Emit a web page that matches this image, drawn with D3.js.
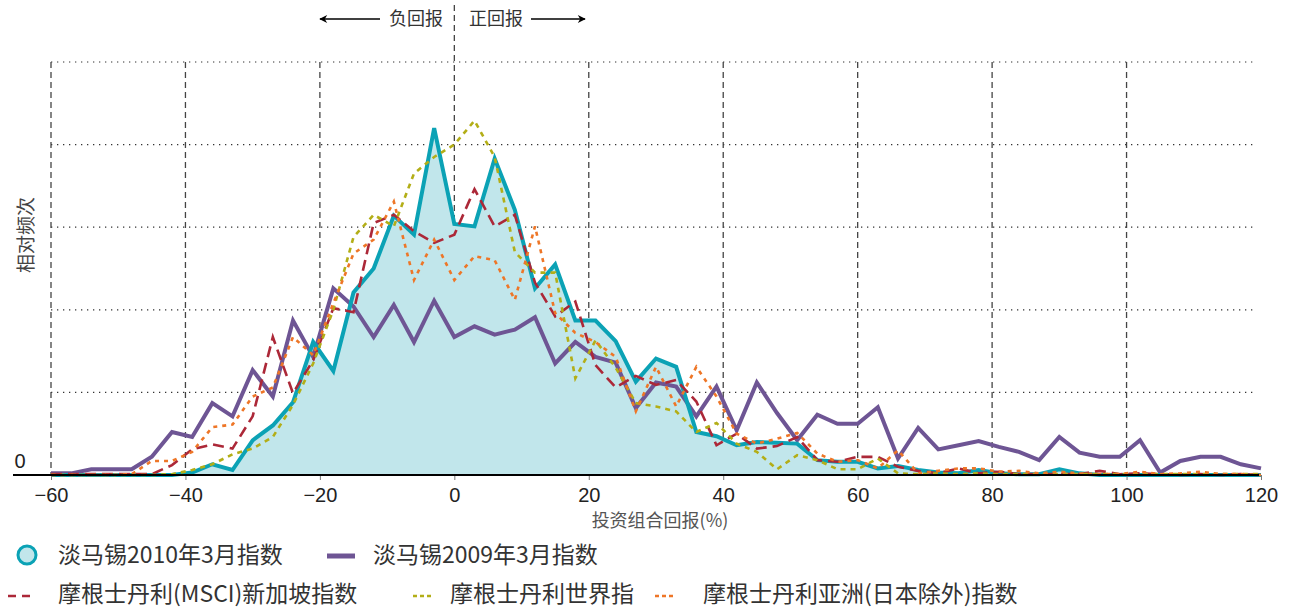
<!DOCTYPE html>
<html>
<head>
<meta charset="utf-8">
<script src="https://cdn.jsdelivr.net/npm/d3@7"></script>
<style>
  html, body { margin: 0; padding: 0; background: #fff; }
  svg { display: block; }
  text { font-family: "Noto Sans CJK SC", "Noto Sans", sans-serif; }
</style>
</head>
<body>
<svg id="chart" width="1291" height="609"></svg>
<script>
// Return bins (%), one point every 3 percentage points
const returns = [-60,-57,-54,-51,-48,-45,-42,-39,-36,-33,-30,-27,-24,-21,-18,-15,-12,-9,-6,-3,
  0,3,6,9,12,15,18,21,24,27,30,33,36,39,42,45,48,51,54,57,60,63,66,69,72,75,78,81,84,87,
  90,93,96,99,102,105,108,111,114,117,120];

// Relative frequency of each index
const temasek2010 = [0,0,0,0,0,0,0,0.03,0.13,0.06,0.42,0.6,0.88,1.61,1.26,2.21,2.5,3.14,2.91,4.2,
  3.04,3.01,3.83,3.21,2.26,2.55,1.87,1.87,1.62,1.13,1.41,1.31,0.52,0.47,0.36,0.40,0.39,0.38,0.18,0.16,
  0.16,0.08,0.11,0.06,0.03,0.02,0.06,0.02,0.01,0.01,0.07,0.02,0,0,0,0,0,0,0,0,0];
const temasek2009 = [0.02,0.02,0.07,0.07,0.07,0.22,0.52,0.46,0.87,0.71,1.27,0.95,1.87,1.43,2.26,2.04,1.67,2.06,1.61,2.11,
  1.67,1.80,1.70,1.76,1.91,1.35,1.61,1.43,1.36,0.81,1.12,1.07,0.71,1.07,0.54,1.12,0.75,0.42,0.73,0.62,
  0.62,0.82,0.2,0.57,0.31,0.36,0.41,0.34,0.28,0.18,0.46,0.27,0.22,0.22,0.42,0.03,0.17,0.22,0.22,0.13,0.08];
const msciSingapore = [0.01,0.01,0.01,0.01,0.01,0.01,0.12,0.31,0.37,0.32,0.71,1.67,0.99,1.39,2.02,1.97,3.05,3.15,2.95,2.81,
  2.91,3.46,3.01,3.15,2.33,1.92,2.10,1.33,1.06,1.20,1.09,1.15,0.89,0.36,0.50,0.32,0.35,0.46,0.18,0.16,
  0.22,0.22,0.10,0.05,0.02,0.08,0.02,0.04,0.01,0.01,0.01,0.01,0.05,0.01,0.02,0.01,0,0.01,0,0.01,0];
const msciWorld = [0,0,0,0,0,0,0.01,0.06,0.13,0.25,0.32,0.46,0.85,1.35,2.0,2.88,3.15,3.01,3.65,3.85,
  4.0,4.29,3.85,2.7,2.45,2.45,1.17,1.63,1.3,0.87,0.83,0.77,0.52,0.63,0.38,0.28,0.07,0.24,0.18,0.07,
  0.07,0.2,0.02,0.01,0.02,0.01,0.02,0.01,0.01,0.01,0.01,0.01,0.01,0.01,0.01,0.01,0.01,0.01,0.01,0.01,0.01];
const msciAsiaExJapan = [0,0,0,0,0.01,0.17,0.17,0.28,0.58,0.61,0.95,1.06,1.67,1.45,2.08,2.68,2.85,3.31,2.36,2.85,
  2.36,2.65,2.60,2.12,3.01,1.96,1.72,1.61,1.43,0.77,1.31,0.83,1.31,0.95,0.50,0.38,0.44,0.51,0.26,0.16,
  0.18,0.08,0.30,0.02,0.05,0.08,0.08,0.04,0.05,0.02,0.04,0.02,0.01,0.01,0.04,0.01,0.02,0.04,0.01,0.01,0];

const xTicks = [-60,-40,-20,0,20,40,60,80,100,120];
const yGrid = [1,2,3,4,5];

const svg = d3.select("#chart");
const x = d3.scaleLinear().domain([-60, 120]).range([51, 1261]);
const y = d3.scaleLinear().domain([0, 5]).range([475, 62]);

// Horizontal dotted grid
svg.append("g").selectAll("line").data(yGrid).join("line")
  .attr("x1", x(-60)).attr("x2", 1257)
  .attr("y1", d => y(d)).attr("y2", d => y(d))
  .attr("stroke", "#333").attr("stroke-width", 1.2)
  .attr("stroke-dasharray", "1.3,4.7");

// Vertical dashed grid (the zero line reaches up to the annotation)
svg.append("g").selectAll("line").data(xTicks.filter(d => d < 120)).join("line")
  .attr("x1", d => x(d)).attr("x2", d => x(d))
  .attr("y1", d => d === 0 ? 5 : y(5)).attr("y2", y(0))
  .attr("stroke", "#444").attr("stroke-width", 1.3)
  .attr("stroke-dasharray", "6,4");

const pts = s => returns.map((r, i) => [r, s[i]]);
const line = d3.line().x(d => x(d[0])).y(d => y(d[1]));
const area = d3.area().x(d => x(d[0])).y0(y(0)).y1(d => y(d[1]));

// Temasek 2010: filled area with outline
svg.append("path").datum(pts(temasek2010)).attr("d", area)
  .attr("fill", "#c1e6eb");

const series = [
  { data: temasek2009, color: "#6e5594", width: 4, dash: null },
  { data: temasek2010, color: "#0ba2b5", width: 4, dash: null },
  { data: msciSingapore, color: "#ac2838", width: 2.6, dash: "11,6" },
  { data: msciWorld, color: "#b3ae17", width: 2.6, dash: "5,5" },
  { data: msciAsiaExJapan, color: "#ee7627", width: 2.6, dash: "4,5" }
];
series.forEach(s => {
  svg.append("path").datum(pts(s.data)).attr("d", line)
    .attr("fill", "none").attr("stroke", s.color).attr("stroke-width", s.width)
    .attr("stroke-linejoin", "miter")
    .attr("stroke-dasharray", s.dash);
});

// X axis
const xAxis = svg.append("g").attr("transform", `translate(0,${y(0)})`)
  .call(d3.axisBottom(x).tickValues(xTicks).tickSize(5).tickFormat(d3.format("d")));
xAxis.select(".domain").remove();
xAxis.selectAll(".tick line").attr("stroke", "#777");
xAxis.selectAll(".tick text").attr("dy", "0.95em")
  .style("font-family", "'Liberation Sans', Arial, sans-serif")
  .style("font-size", "20px").attr("fill", "#222");
svg.append("line").attr("x1", 13).attr("x2", 1259).attr("y1", y(0)).attr("y2", y(0))
  .attr("stroke", "#000").attr("stroke-width", 2);

svg.append("text").attr("x", 660).attr("y", 527).attr("text-anchor", "middle")
  .attr("fill", "#555").style("font-size", "18px").text("投资组合回报(%)");

// Y axis label and zero
svg.append("text").attr("transform", "translate(33,235) rotate(-90)")
  .attr("text-anchor", "middle").attr("fill", "#444").style("font-size", "19px").text("相对频次");
svg.append("text").attr("x", 20).attr("y", 468).attr("text-anchor", "middle")
  .attr("fill", "#222").style("font-family", "'Liberation Sans', Arial, sans-serif")
  .style("font-size", "20px").text("0");

// Negative / positive return annotation
const defs = svg.append("defs");
defs.append("marker").attr("id", "arrow").attr("viewBox", "0 0 10 10")
  .attr("refX", 9).attr("refY", 5).attr("markerWidth", 10).attr("markerHeight", 8)
  .attr("markerUnits", "userSpaceOnUse").attr("orient", "auto")
  .append("path").attr("d", "M0,0 L10,5 L0,10 L3,5 Z").attr("fill", "#000");
svg.append("line").attr("x1", 380).attr("x2", 320).attr("y1", 19).attr("y2", 19)
  .attr("stroke", "#000").attr("stroke-width", 1.5).attr("marker-end", "url(#arrow)");
svg.append("text").attr("x", 443).attr("y", 25).attr("text-anchor", "end")
  .attr("fill", "#333").style("font-size", "18px").text("负回报");
svg.append("text").attr("x", 469).attr("y", 25)
  .attr("fill", "#333").style("font-size", "18px").text("正回报");
svg.append("line").attr("x1", 531).attr("x2", 585).attr("y1", 19).attr("y2", 19)
  .attr("stroke", "#000").attr("stroke-width", 1.5).attr("marker-end", "url(#arrow)");

// Legend
const legend = svg.append("g").style("font-size", "23px");
legend.append("circle").attr("cx", 27).attr("cy", 555).attr("r", 9)
  .attr("fill", "#c1e6eb").attr("stroke", "#0ba2b5").attr("stroke-width", 3);
legend.append("text").attr("x", 58).attr("y", 563).attr("fill", "#333").text("淡马锡2010年3月指数");
legend.append("line").attr("x1", 327).attr("x2", 355).attr("y1", 556).attr("y2", 556)
  .attr("stroke", "#6e5594").attr("stroke-width", 5);
legend.append("text").attr("x", 373).attr("y", 563).attr("fill", "#333").text("淡马锡2009年3月指数");

legend.append("line").attr("x1", 8).attr("x2", 30).attr("y1", 596).attr("y2", 596)
  .attr("stroke", "#ac2838").attr("stroke-width", 2.6).attr("stroke-dasharray", "8,6");
legend.append("text").attr("x", 58).attr("y", 602).attr("fill", "#333").text("摩根士丹利(MSCI)新加坡指数");
legend.append("line").attr("x1", 413).attr("x2", 431).attr("y1", 596).attr("y2", 596)
  .attr("stroke", "#b3ae17").attr("stroke-width", 2.6).attr("stroke-dasharray", "4,3");
legend.append("text").attr("x", 450).attr("y", 602).attr("fill", "#333").text("摩根士丹利世界指");
legend.append("line").attr("x1", 655).attr("x2", 673).attr("y1", 596).attr("y2", 596)
  .attr("stroke", "#ee7627").attr("stroke-width", 2.6).attr("stroke-dasharray", "4,3");
legend.append("text").attr("x", 703).attr("y", 602).attr("fill", "#333").text("摩根士丹利亚洲(日本除外)指数");
</script>
</body>
</html>
